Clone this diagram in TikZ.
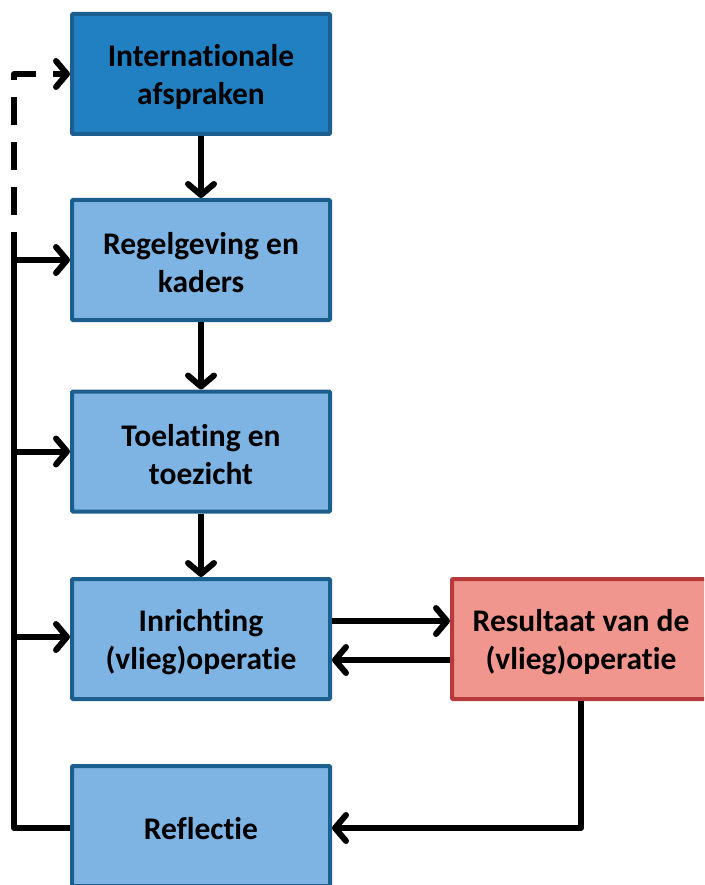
\documentclass[tikz,border=0pt]{standalone}
\usepackage{fontspec}
\setmainfont{Carlito}[Ligatures=NoCommon]
\usetikzlibrary{arrows.meta}
\definecolor{darkfill}{HTML}{2080C1}
\definecolor{lightfill}{HTML}{7EB4E4}
\definecolor{blueedge}{HTML}{1C5F8F}
\definecolor{redfill}{HTML}{F0968F}
\definecolor{rededge}{HTML}{B8393A}
\tikzset{
  box/.style={draw=blueedge, line width=4pt, fill=lightfill, minimum width=258pt, minimum height=120pt,
    inner sep=0pt, rounded corners=1pt},
  txt/.style={label={[align=center, font=\fontsize{31.5}{38}\selectfont\bfseries, yshift=-3pt]center:#1}},
  conn/.style={line width=6pt, line join=round, -{Straight Barb[length=11pt,width=26pt,line width=6pt,round]}},
  plain/.style={line width=6pt, line join=round}
}
\begin{document}
\begin{tikzpicture}[x=1pt,y=-1pt]
\useasboundingbox (0,0) rectangle (704,885);
\clip (0,0) rectangle (704,885);
\node[box, fill=darkfill, txt={Internationale\\afspraken}] (b1) at (201,74) {};
\node[box, txt={Regelgeving en\\kaders}] (b2) at (201,260) {};
\node[box, txt={Toelating en\\toezicht}] (b3) at (201,451.5) {};
\node[box, txt={Inrichting\\(vlieg)operatie}] (b4) at (201,639) {};
\node[box, txt={Reflectie}] (b5) at (201,826) {};
\node[box, draw=rededge, fill=redfill, txt={Resultaat van de\\(vlieg)operatie}] (r) at (581,639) {};
\coordinate (c2) at (14,260);
\coordinate (c3) at (14,451.5);
\coordinate (c4) at (14,637);
\draw[conn] (b1) -- (b2);
\draw[conn] (b2) -- (b3);
\draw[conn] (b3) -- (b4);
\draw[conn] ([yshift=18pt]b4.east) -- ([yshift=18pt]r.west);
\draw[conn] ([yshift=-21pt]r.west) -- ([yshift=-21pt]b4.east);
\draw[conn] (r.south) |- ([yshift=-2pt]b5.east);
\draw[plain] ([yshift=-2pt]b5.west) -| (c2);
\draw[conn] (c2) -- (b2.west);
\draw[conn] (c3) -- (b3.west);
\draw[conn] (c4) -- (c4 -| b4.west);
\draw[conn, dash pattern=on 28pt off 17pt] (c2) |- (b1.west);
\end{tikzpicture}
\end{document}
